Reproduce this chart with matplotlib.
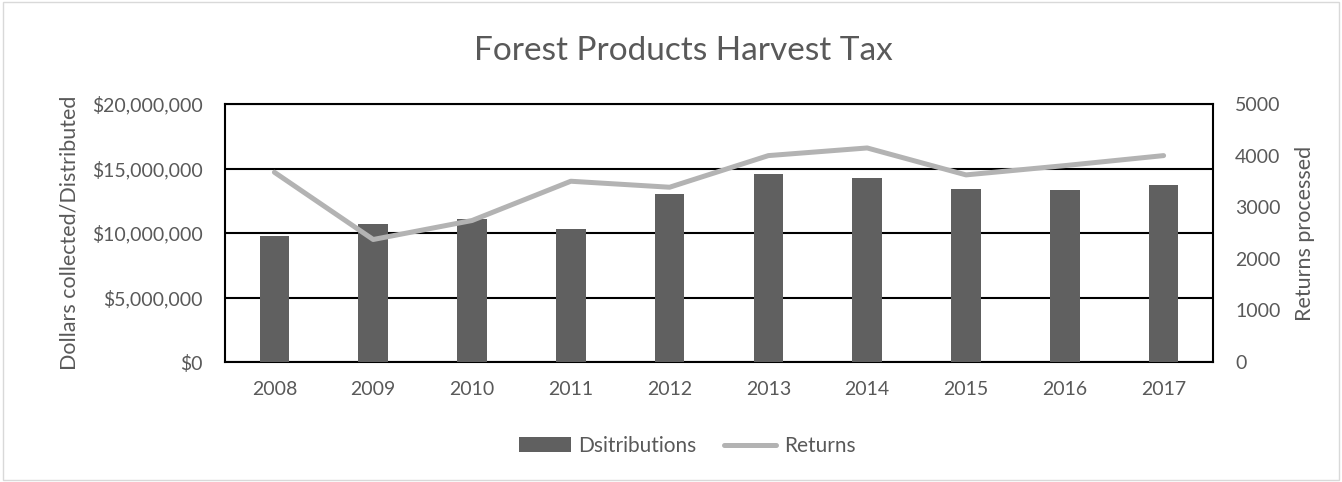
import numpy as np
import matplotlib.pyplot as plt
from matplotlib.patches import Rectangle

plt.rcParams['font.family'] = ['Lato', 'DejaVu Sans']

years = ['2008', '2009', '2010', '2011', '2012', '2013', '2014', '2015', '2016', '2017']
distributions = [9.77e6, 10.72e6, 11.10e6, 10.28e6, 13.04e6, 14.58e6, 14.25e6, 13.42e6, 13.32e6, 13.73e6]
returns = [3677, 2374, 2742, 3503, 3387, 4000, 4148, 3626, 3806, 4000]

txt = '#595959'
fig = plt.figure(figsize=(13.42, 4.82), dpi=100)
ax = fig.add_axes([225 / 1342, 1 - 362 / 482, 988 / 1342, 258 / 482])
x = np.arange(len(years))

ax.bar(x, distributions, width=0.30, color='#606060', label='Dsitributions', zorder=3)
ax.set_ylim(0, 20e6)
ax.set_xlim(-0.5, len(years) - 0.5)
ax.set_yticks(np.arange(0, 20e6 + 1, 5e6))
ax.set_yticklabels(['${:,.0f}'.format(v) for v in np.arange(0, 20e6 + 1, 5e6)])
ax.set_xticks(x)
ax.set_xticklabels(years)
ax.grid(axis='y', color='black', linewidth=1.5, zorder=1)
for s in ax.spines.values():
    s.set_color('black')
    s.set_linewidth(1.5)
ax.tick_params(axis='y', length=0, labelsize=14, colors=txt, pad=16)
ax.tick_params(axis='x', length=0, labelsize=14, colors=txt, pad=14)
ax.set_ylabel('Dollars collected/Distributed', fontsize=15.5, color=txt, labelpad=9)

ax2 = ax.twinx()
ax2.plot(x, returns, color='#b3b3b3', linewidth=3.6, solid_capstyle='round',
         solid_joinstyle='round', label='Returns', zorder=4)
ax2.set_ylim(0, 5000)
ax2.set_yticks(np.arange(0, 5001, 1000))
ax2.tick_params(length=0, labelsize=14, colors=txt, pad=16)
for s in ax2.spines.values():
    s.set_visible(False)
ax2.set_ylabel('Returns processed', fontsize=15.5, color=txt, labelpad=10)

fig.text(683 / 1342, 1 - 60 / 482, 'Forest Products Harvest Tax', fontsize=24, color=txt,
         ha='center', va='baseline')

h1, l1 = ax.get_legend_handles_labels()
h2, l2 = ax2.get_legend_handles_labels()
fig.legend(h1 + h2, l1 + l2, loc='center', bbox_to_anchor=(687 / 1342, 1 - 446 / 482), ncol=2,
           frameon=False, fontsize=15, labelcolor=txt, handlelength=2.5,
           handletextpad=0.35, columnspacing=1.35)

fig.patches.append(Rectangle((0.002, 0.004), 0.996, 0.992, transform=fig.transFigure,
                             fill=False, edgecolor='#d9d9d9', linewidth=1))

fig.savefig('out.png', dpi=100)
